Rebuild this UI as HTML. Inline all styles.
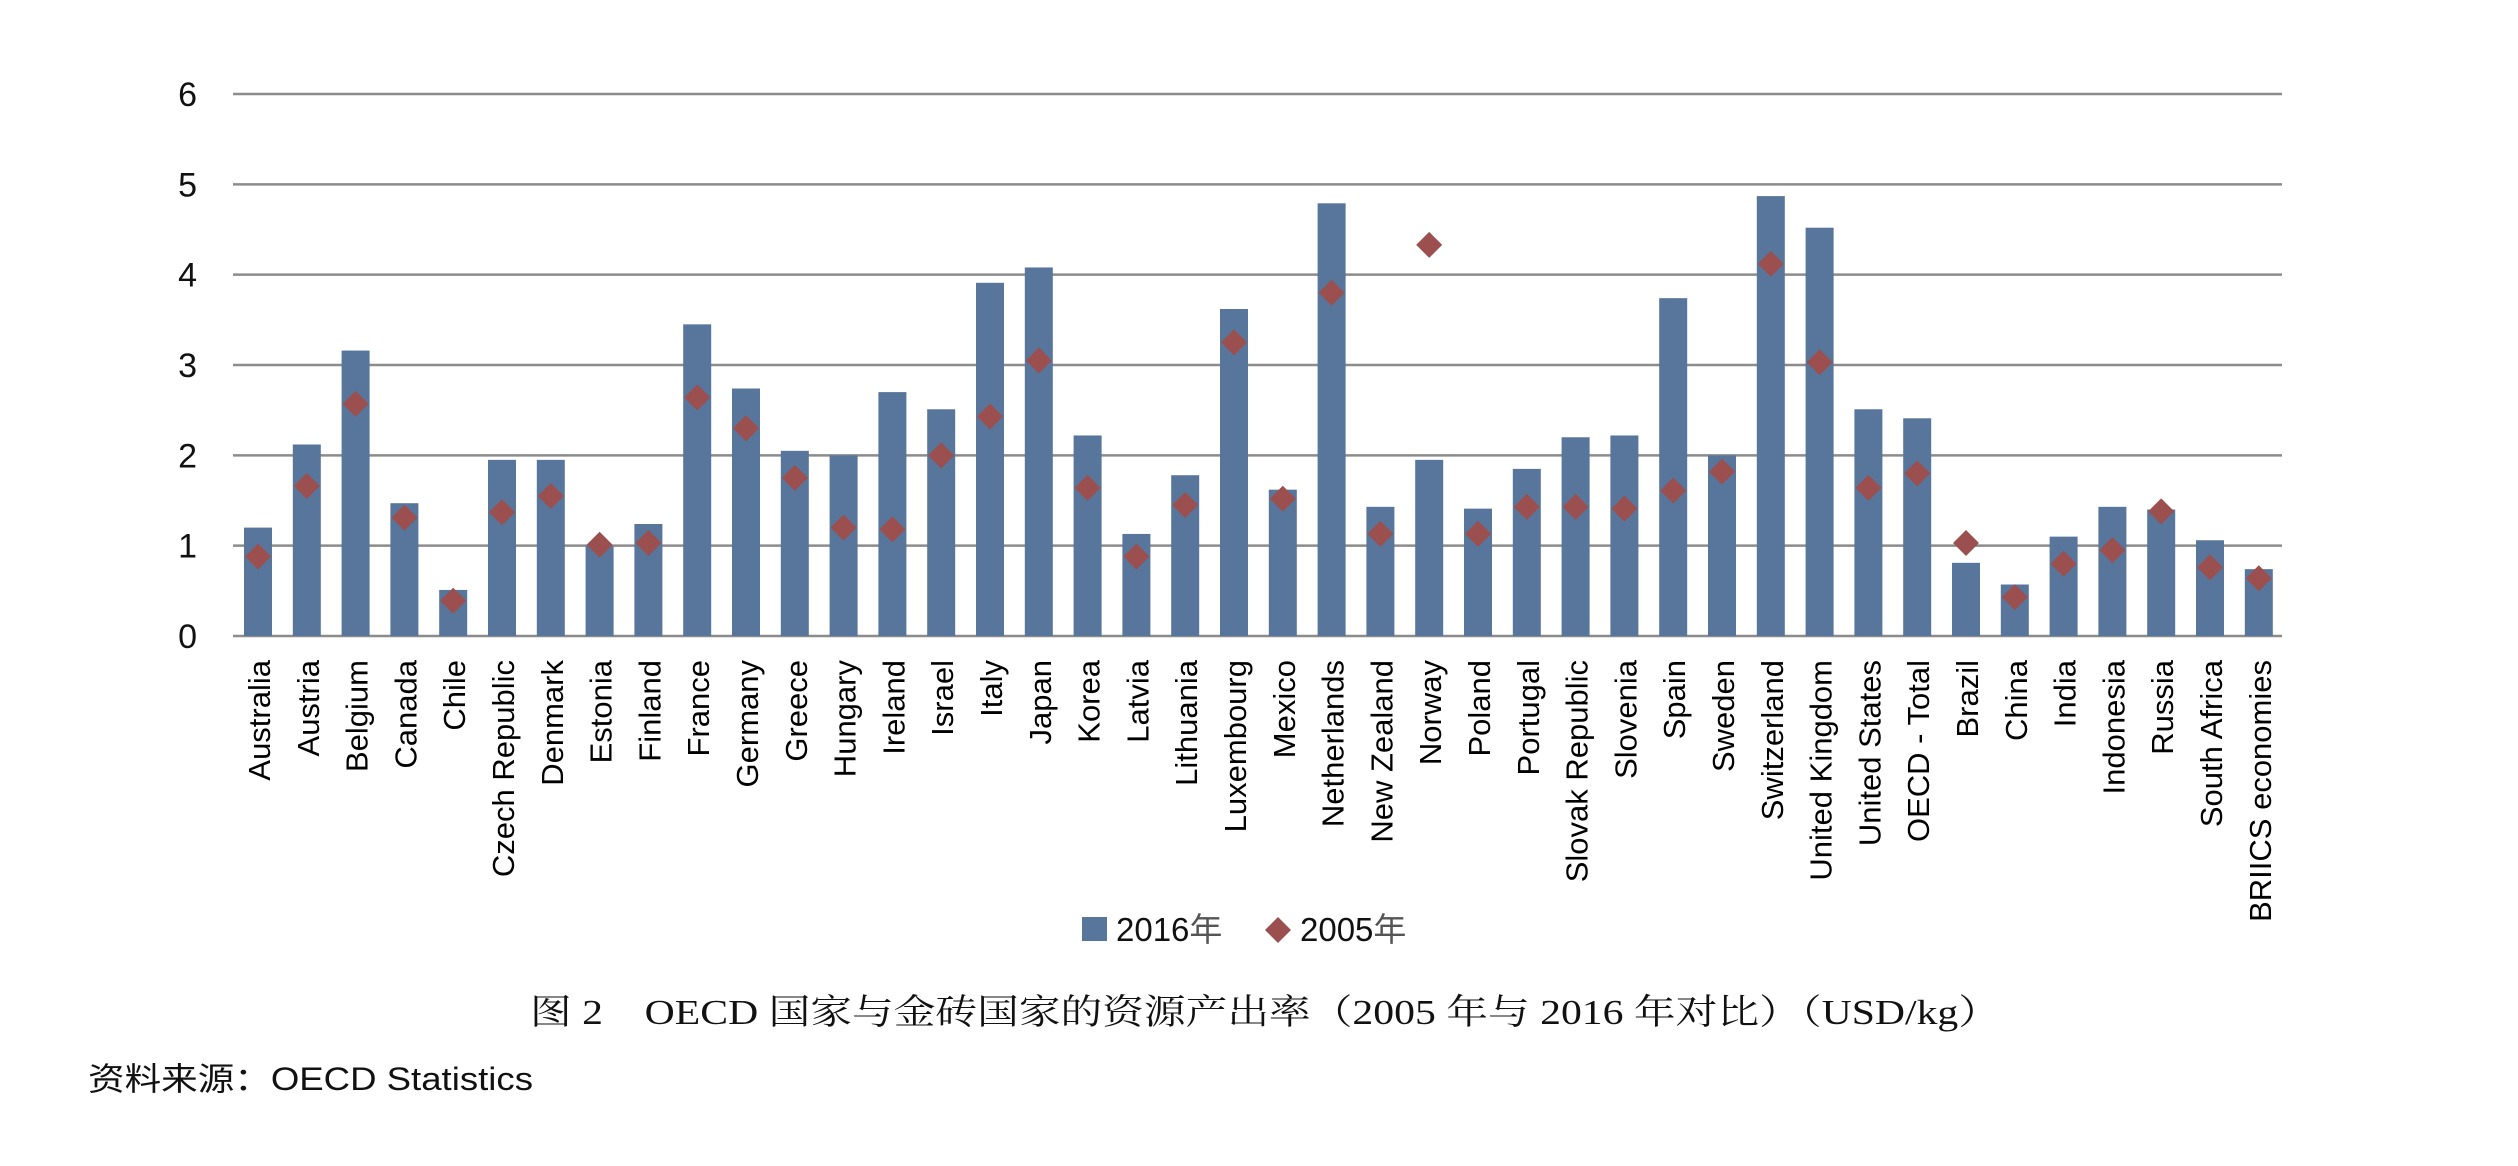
<!DOCTYPE html>
<html><head><meta charset="utf-8">
<style>
html,body{margin:0;padding:0;background:#fff;}
svg{display:block;}
</style></head>
<body>
<svg width="2518" height="1166" viewBox="0 0 2518 1166" xmlns="http://www.w3.org/2000/svg">
<g id="grid" stroke="#8c8c8c" stroke-width="2.5"></g>
<g id="ylab" font-family="Liberation Sans, sans-serif" font-size="34" fill="#111" text-anchor="end"></g>
<g id="bars" fill="#58759b"></g>
<g id="dias" fill="#9c4f4f"></g>
<g id="xlab" font-family="Liberation Sans, sans-serif" font-size="31" fill="#000" text-anchor="end"></g>
<rect x="1082" y="917" width="25" height="24" fill="#58759b"/>
<text x="1116" y="941" font-family="Liberation Sans, 'Noto Sans CJK SC', sans-serif" font-size="33" fill="#111">2016<tspan fill="#555">年</tspan></text>
<polygon points="1278,917 1291,930 1278,943 1265,930" fill="#9c4f4f"/>
<text x="1300" y="941" font-family="Liberation Sans, 'Noto Sans CJK SC', sans-serif" font-size="33" fill="#111">2005<tspan fill="#555">年</tspan></text>
<text x="530" y="1024" textLength="1470" lengthAdjust="spacingAndGlyphs" font-family="'Liberation Serif', 'Noto Serif CJK SC', serif" font-size="35" fill="#111">图 2　OECD 国家与金砖国家的资源产出率（2005 年与 2016 年对比）（USD/kg）</text>
<text x="88" y="1090" textLength="445" lengthAdjust="spacingAndGlyphs" font-family="'Liberation Sans', 'Noto Sans CJK SC', sans-serif" font-size="32" fill="#111">资料来源：OECD Statistics</text>
</svg>
<script>
var ns="http://www.w3.org/2000/svg";
var data=[["Australia",1.2,0.88],["Austria",2.12,1.66],["Belgium",3.16,2.57],["Canada",1.47,1.31],["Chile",0.51,0.39],["Czech Republic",1.95,1.37],["Denmark",1.95,1.55],["Estonia",1.0,1.01],["Finland",1.24,1.03],["France",3.45,2.64],["Germany",2.74,2.3],["Greece",2.05,1.75],["Hungary",2.0,1.2],["Ireland",2.7,1.18],["Israel",2.51,2.0],["Italy",3.91,2.43],["Japan",4.08,3.05],["Korea",2.22,1.64],["Latvia",1.13,0.88],["Lithuania",1.78,1.45],["Luxembourg",3.62,3.25],["Mexico",1.62,1.52],["Netherlands",4.79,3.8],["New Zealand",1.43,1.13],["Norway",1.95,4.33],["Poland",1.41,1.13],["Portugal",1.85,1.43],["Slovak Republic",2.2,1.43],["Slovenia",2.22,1.41],["Spain",3.74,1.61],["Sweden",2.0,1.82],["Switzerland",4.87,4.12],["United Kingdom",4.52,3.03],["United States",2.51,1.64],["OECD - Total",2.41,1.8],["Brazil",0.81,1.03],["China",0.57,0.43],["India",1.1,0.8],["Indonesia",1.43,0.95],["Russia",1.4,1.38],["South Africa",1.06,0.76],["BRIICS economies",0.74,0.64]];
var y0=636,u=90.33,x0=258,st=48.8;
function el(t,a,p,txt){var e=document.createElementNS(ns,t);for(var k in a)e.setAttribute(k,a[k]);if(txt!=null)e.textContent=txt;document.getElementById(p).appendChild(e);}
for(var i=0;i<=6;i++){var y=y0-i*u;el("line",{x1:233,x2:2282,y1:y,y2:y},"grid");el("text",{x:197,y:y+12},"ylab",String(i));}
data.forEach(function(d,i){var cx=x0+i*st;var h=d[1]*u;
el("rect",{x:cx-14,y:y0-h,width:28,height:h},"bars");
var dy=y0-d[2]*u;el("polygon",{points:(cx)+","+(dy-13)+" "+(cx+13)+","+dy+" "+cx+","+(dy+13)+" "+(cx-13)+","+dy},"dias");
el("text",{x:0,y:0,transform:"translate("+(cx+12)+",660) rotate(-90)"},"xlab",d[0]);});
</script>
</body></html>
